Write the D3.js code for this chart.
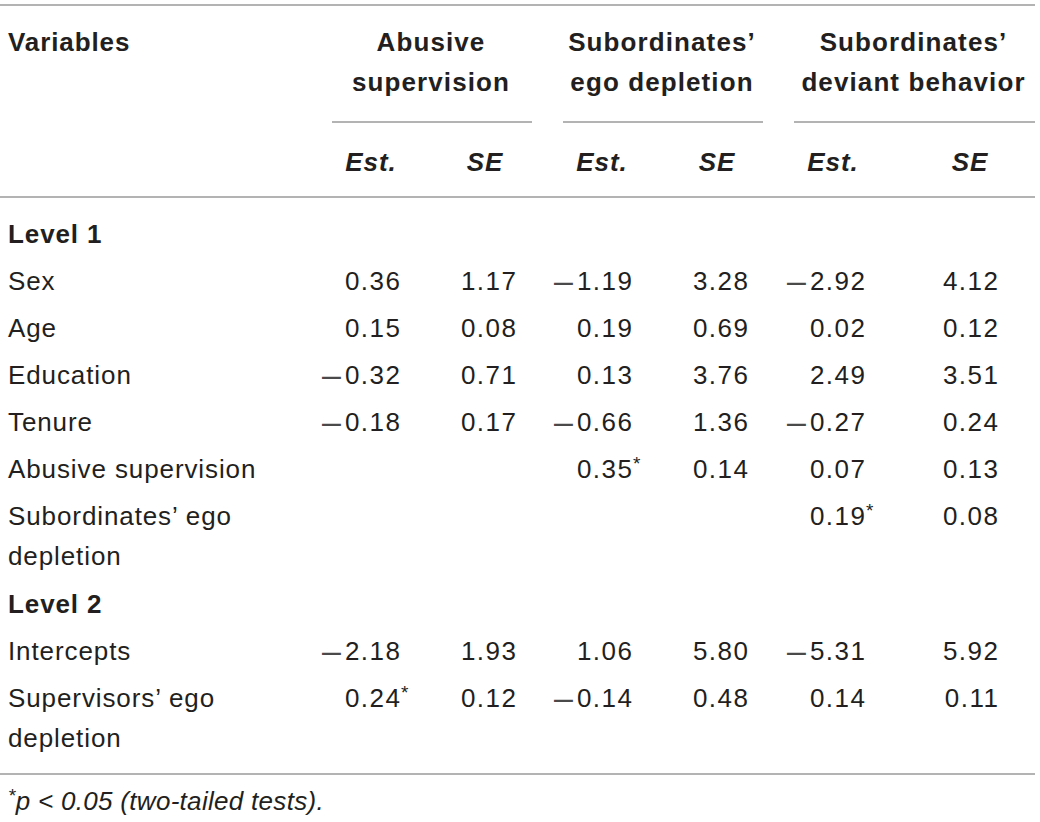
<!DOCTYPE html>
<html><head><meta charset="utf-8">
<script src="https://cdn.jsdelivr.net/npm/d3@7"></script>
<style>
html,body{margin:0;padding:0;background:#fff;}
svg{display:block;}
text{font-family:"Liberation Sans",Arial,Helvetica,sans-serif;fill:#231f20;}
</style></head>
<body>
<svg id="chart" width="1040" height="822"></svg>
<script>
// ---- data ----
const groups = ["Abusive supervision", "Subordinates’ ego depletion", "Subordinates’ deviant behavior"];
const groupLines = [["Abusive", "supervision"], ["Subordinates’", "ego depletion"], ["Subordinates’", "deviant behavior"]];
const subHeaders = ["Est.", "SE", "Est.", "SE", "Est.", "SE"];
const rowLabels = [
  ["Level 1"], ["Sex"], ["Age"], ["Education"], ["Tenure"], ["Abusive supervision"],
  ["Subordinates’ ego", "depletion"], ["Level 2"], ["Intercepts"], ["Supervisors’ ego", "depletion"]
];
const isSection = [true, false, false, false, false, false, false, true, false, false];
const estAbusive = [null, 0.36, 0.15, -0.32, -0.18, null, null, null, -2.18, 0.24];
const seAbusive  = [null, 1.17, 0.08, 0.71, 0.17, null, null, null, 1.93, 0.12];
const estEgo     = [null, -1.19, 0.19, 0.13, -0.66, 0.35, null, null, 1.06, -0.14];
const seEgo      = [null, 3.28, 0.69, 3.76, 1.36, 0.14, null, null, 5.80, 0.48];
const estDeviant = [null, -2.92, 0.02, 2.49, -0.27, 0.07, 0.19, null, -5.31, 0.14];
const seDeviant  = [null, 4.12, 0.12, 3.51, 0.24, 0.13, 0.08, null, 5.92, 0.11];
const sigAbusive = [false, false, false, false, false, false, false, false, false, true];
const sigEgo     = [false, false, false, false, false, true, false, false, false, false];
const sigDeviant = [false, false, false, false, false, false, true, false, false, false];
const footnote = "p < 0.05 (two-tailed tests).";

// ---- layout ----
const svg = d3.select("#chart");
const FS = 26;
const LS = 0.9;      // letter spacing for words
const NLS = 1.5;     // letter spacing for numbers
const colKeys = d3.range(6);
const numRight = d3.scaleOrdinal().domain(colKeys).range([400, 516, 632, 748, 865, 998]);
const headCenter = d3.scaleOrdinal().domain(colKeys).range([371, 485, 602, 717, 833, 970]);
const groupScale = d3.scaleOrdinal().domain(d3.range(3)).range([[332, 532], [563, 763], [794, 1035]]);
const fmt = d3.format(".2f");

// row positions (line-based)
const lineStep = 47, wrapStep = 40;
let acc = 0;
const rowStart = rowLabels.map((r, i) => {
  const s = acc;
  acc += r.length > 1 ? (wrapStep + 48) / lineStep : 1;
  return s;
});
const y = d3.scaleLinear().domain([0, 1]).range([234, 234 + lineStep]);

const lineColor = "#9a9a9a";
function hline(x1, x2, yy) {
  svg.append("line").attr("x1", x1).attr("x2", x2).attr("y1", yy).attr("y2", yy)
    .attr("stroke", lineColor).attr("stroke-width", 1.6);
}
hline(0, 1035, 5);
hline(0, 1035, 197);
hline(0, 1035, 774);
d3.range(3).forEach(g => { const [a, b] = groupScale(g); hline(a, b, 122); });

// header
svg.append("text").attr("x", 8).attr("y", 42).attr("dominant-baseline", "central")
  .attr("font-size", FS).attr("font-weight", "bold").attr("letter-spacing", LS).text("Variables");
groupLines.forEach((lines, g) => {
  const [a, b] = groupScale(g);
  lines.forEach((t, k) => {
    svg.append("text").attr("x", (a + b) / 2 - 1).attr("y", 42 + 40 * k).attr("dominant-baseline", "central")
      .attr("text-anchor", "middle").attr("font-size", FS).attr("font-weight", "bold")
      .attr("letter-spacing", 1.1).text(t);
  });
});
subHeaders.forEach((t, c) => {
  svg.append("text").attr("x", headCenter(c)).attr("y", 162).attr("dominant-baseline", "central")
    .attr("text-anchor", "middle").attr("font-size", FS).attr("font-weight", "bold")
    .attr("font-style", "italic").attr("letter-spacing", LS).text(t);
});

// body
const cols = [estAbusive, seAbusive, estEgo, seEgo, estDeviant, seDeviant];
const sigs = [sigAbusive, null, sigEgo, null, sigDeviant, null];
rowLabels.forEach((lines, i) => {
  const yy = y(rowStart[i]);
  lines.forEach((t, k) => {
    svg.append("text").attr("x", 8).attr("y", yy + k * wrapStep).attr("dominant-baseline", "central")
      .attr("font-size", FS).attr("font-weight", isSection[i] ? "bold" : "normal")
      .attr("letter-spacing", LS).text(t);
  });
  cols.forEach((arr, c) => {
    const v = arr[i];
    if (v == null) return;
    const t = svg.append("text").attr("x", numRight(c) + NLS).attr("y", yy).attr("dominant-baseline", "central")
      .attr("text-anchor", "end").attr("font-size", FS).attr("letter-spacing", NLS);
    if (v < 0) {
      t.append("tspan").attr("font-size", 34).attr("dy", -1.5).attr("letter-spacing", 4)
        .style("fill", "#4a4a4a").text("–");
      t.append("tspan").attr("dy", 1.5).text(fmt(Math.abs(v)));
    } else {
      t.append("tspan").text(fmt(v));
    }
    if (sigs[c] && sigs[c][i]) {
      svg.append("text").attr("x", numRight(c) + 1).attr("y", yy - 6).attr("dominant-baseline", "central")
        .attr("font-size", 19).text("*");
    }
  });
});

// footnote
const fn = svg.append("text").attr("x", 8).attr("y", 801).attr("dominant-baseline", "central")
  .attr("font-size", FS).attr("font-style", "italic").attr("letter-spacing", 0.3);
fn.append("tspan").attr("font-size", 19).attr("dy", -6).text("*");
fn.append("tspan").attr("dy", 6).text(footnote);
</script>
</body></html>
